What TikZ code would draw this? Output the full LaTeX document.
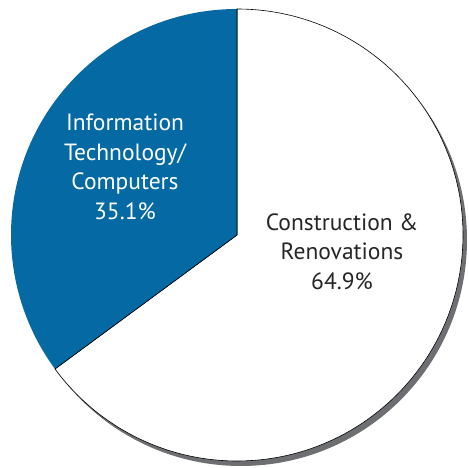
\documentclass[tikz,border=0pt]{standalone}
\usepackage{fontspec}
\setmainfont{PT Sans}
\definecolor{itblue}{RGB}{5,105,163}
\definecolor{shadowgray}{RGB}{110,111,115}
\begin{document}
\begin{tikzpicture}[x=1pt, y=1pt,
  label/.style={align=center, font=\fontsize{23.5}{29.5}\selectfont}]
  \useasboundingbox (0,0) rectangle (469,468);
  \coordinate (c) at (237,233);

  % Shadow
  \fill[shadowgray] ([shift={(4,-5)}]c) circle (226);

  % Construction & Renovations
  \filldraw[fill=white, draw=black, line width=0.6] (c) -- ++(90:226) arc (90:-143.64:226) -- cycle;

  % Information Technology
  \fill[itblue] (c) -- ++(90:226) arc (90:216.36:226) -- cycle;
  \draw[line width=0.6] ([shift={(90:226)}]c) -- (c) -- ([shift={(216.36:226)}]c);

  % Labels
  \node[label, text=white] (it) at (125,301) {Information\\Technology/\\Computers\\35.1\%};
  \node[label, text=black!85] (cr) at (342,216.5) {Construction \&\\Renovations\\64.9\%};
\end{tikzpicture}
\end{document}
